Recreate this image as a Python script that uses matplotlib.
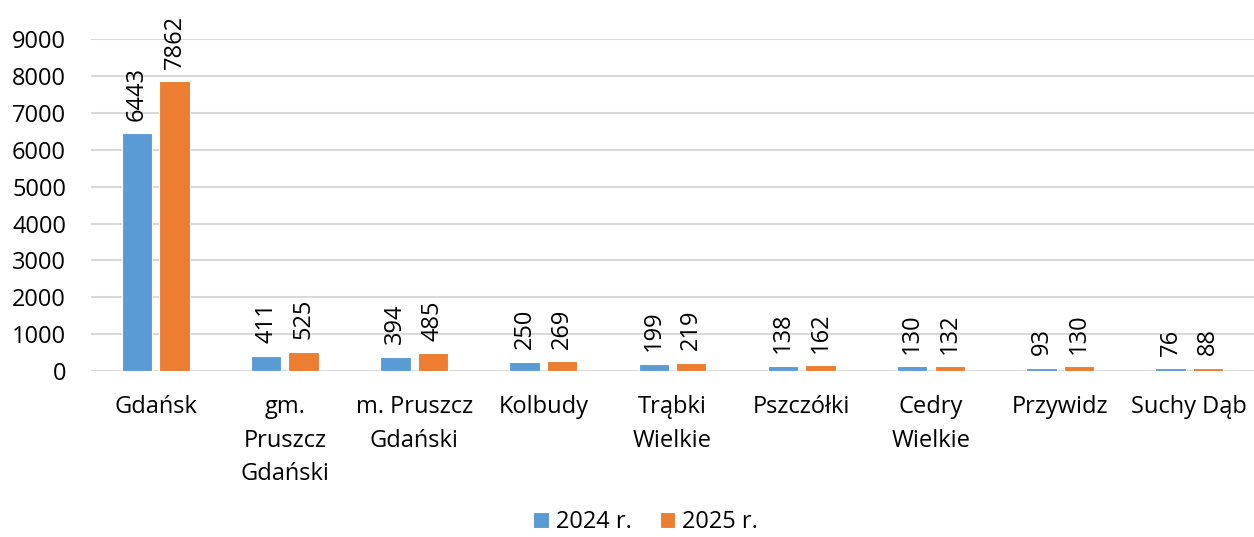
import matplotlib.pyplot as plt
import numpy as np

plt.rcParams['font.family'] = ['Open Sans', 'DejaVu Sans']

# data
categories = ['Gdańsk', 'gm.\nPruszcz\nGdański', 'm. Pruszcz\nGdański', 'Kolbudy',
              'Trąbki\nWielkie', 'Pszczółki', 'Cedry\nWielkie', 'Przywidz', 'Suchy Dąb']
values_2024 = [6443, 411, 394, 250, 199, 138, 130, 93, 76]
values_2025 = [7862, 525, 485, 269, 219, 162, 132, 130, 88]
yticks = list(range(0, 10000, 1000))

blue = '#5B9BD5'
orange = '#ED7D31'

fig = plt.figure(figsize=(12.54, 5.37), dpi=100)
ax = fig.add_axes([0.0726, 0.309, 0.9274, 0.618])

x = np.arange(len(categories))
w = 0.235
off = 0.145
b1 = ax.bar(x - off, values_2024, w, color=blue, edgecolor='white', linewidth=0.8,
            label='2024 r.', zorder=3)
b2 = ax.bar(x + off, values_2025, w, color=orange, edgecolor='white', linewidth=0.8,
            label='2025 r.', zorder=3)

for bars in (b1, b2):
    for rect in bars:
        ax.annotate(f'{int(rect.get_height())}',
                    (rect.get_x() + rect.get_width() / 2, rect.get_height()),
                    xytext=(0, 9), textcoords='offset points',
                    rotation=90, ha='center', va='bottom', fontsize=17,
                    color='#000000', annotation_clip=False)

ax.set_xlim(-0.5, len(categories) - 0.5)
ax.set_ylim(0, 9000)
ax.set_yticks(yticks)
ax.set_xticks(x)
ax.set_xticklabels(categories, fontsize=17, linespacing=1.55)
ax.tick_params(axis='y', length=0, pad=18, labelsize=17)
ax.tick_params(axis='x', length=0, pad=17)
ax.grid(axis='y', color='#D9D9D9', linewidth=1.5, zorder=0)
for s in ax.spines.values():
    s.set_visible(False)

fig.legend(handles=[b1, b2], loc='center', bbox_to_anchor=(0.515, 0.028),
           ncol=2, frameon=False, fontsize=17, handlelength=0.65, handleheight=0.65,
           handletextpad=0.3, columnspacing=1.2)

fig.savefig('out.png', dpi=100)
